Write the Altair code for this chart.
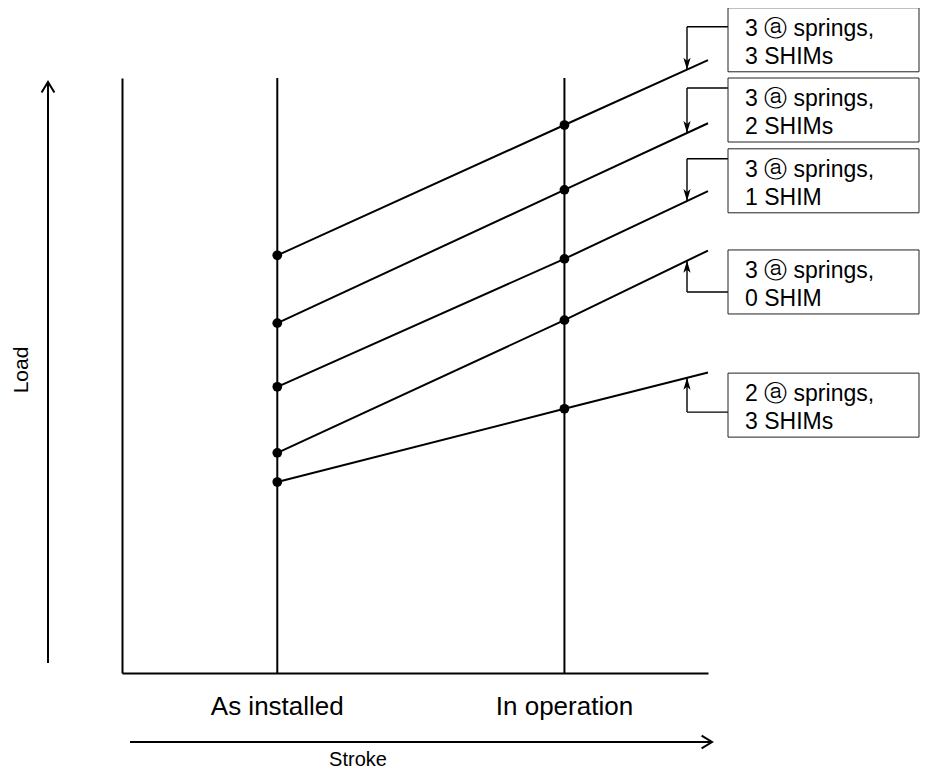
import altair as alt
import pandas as pd

# ---------------- data ----------------
stages = ["As installed", "In operation"]
stage_stroke = [26.5, 75.5]
end_stroke = 100.0

configs = [
    "3 ⓐ springs,\n3 SHIMs",
    "3 ⓐ springs,\n2 SHIMs",
    "3 ⓐ springs,\n1 SHIM",
    "3 ⓐ springs,\n0 SHIM",
    "2 ⓐ springs,\n3 SHIMs",
]
load_installed = [70.2, 58.8, 48.1, 37.0, 32.1]
load_operation = [92.1, 81.2, 69.6, 59.3, 44.4]
load_end = [103.0, 92.4, 81.0, 71.0, 50.5]

# ---------------- layout (annotation placement, data units) ----------------
W, H = 586, 595
PX, PY = W / 100.0, H / 100.0
box_top = [111.8, 100.0, 88.1, 71.1, 50.4]
box_h = 64 / PY
box_x, box_x2 = (728 - 122) / PX, (919 - 122) / PX
text_x = (745 - 122) / PX
conn_x = (687 - 122) / PX
conn_off = [19, 10, 10, 42, 39]          # px below box top
arrow_dir = ["down", "down", "down", "up", "up"]
FONT = "Liberation Sans"

# ---------------- tables ----------------
stage_df = pd.DataFrame({"stage": stages, "stroke": stage_stroke})

rows = []
for c, a, b, e in zip(configs, load_installed, load_operation, load_end):
    rows += [
        {"config": c, "stroke": stage_stroke[0], "load": a, "dot": True},
        {"config": c, "stroke": stage_stroke[1], "load": b, "dot": True},
        {"config": c, "stroke": end_stroke, "load": e, "dot": False},
    ]
lines_df = pd.DataFrame(rows)

ann = []
for i, c in enumerate(configs):
    frac = (conn_x - stage_stroke[1]) / (end_stroke - stage_stroke[1])
    line_y = load_operation[i] + frac * (load_end[i] - load_operation[i])
    cy = box_top[i] - conn_off[i] / PY
    ann.append({
        "config": c, "bx": box_x, "bx2": box_x2,
        "by": box_top[i], "by2": box_top[i] - box_h,
        "tx": text_x, "ty": box_top[i] - 28 / PY,
        "cx": conn_x, "cy": cy, "ly": line_y, "dir": arrow_dir[i],
    })
ann_df = pd.DataFrame(ann)
one = pd.DataFrame({"k": [0]})

xs = alt.Scale(domain=[0, 100], nice=False, zero=False)
ys = alt.Scale(domain=[0, 100], nice=False, zero=False)
frame_axis = dict(domain=True, domainColor="black", domainWidth=2, ticks=False,
                  labels=False, grid=False, title=None)

verticals = alt.Chart(stage_df).mark_rule(color="black", strokeWidth=2).encode(
    x=alt.X("stroke:Q", scale=xs, axis=alt.Axis(**frame_axis)),
    y=alt.Y(datum=0, scale=ys, axis=alt.Axis(**frame_axis)),
    y2=alt.Y2(datum=100),
)

stage_labels = alt.Chart(stage_df).mark_text(
    font=FONT, fontSize=26, baseline="middle", align="center", color="black"
).encode(x="stroke:Q", y=alt.value(707 - 78), text="stage:N")

load_lines = alt.Chart(lines_df).mark_line(color="black", strokeWidth=2).encode(
    x="stroke:Q", y="load:Q", detail="config:N"
)
dots = alt.Chart(lines_df).transform_filter("datum.dot").mark_circle(
    size=95, color="black", opacity=1
).encode(x="stroke:Q", y="load:Q")

boxes = alt.Chart(ann_df).mark_rect(fill="white", stroke="#222222", strokeWidth=1).encode(
    x="bx:Q", x2="bx2:Q", y="by:Q", y2="by2:Q"
)
box_text = alt.Chart(ann_df).mark_text(
    font=FONT, fontSize=23, align="left", baseline="alphabetic",
    lineBreak="\n", lineHeight=28, color="black"
).encode(x="tx:Q", y="ty:Q", text="config:N")

conn_h = alt.Chart(ann_df).mark_rule(color="black", strokeWidth=1.4).encode(
    x="cx:Q", x2="bx:Q", y="cy:Q"
)
conn_v = alt.Chart(ann_df).mark_rule(color="black", strokeWidth=1.4).encode(
    x="cx:Q", y="cy:Q", y2="ly:Q"
)
head_down = alt.Chart(ann_df).transform_filter("datum.dir == 'down'").mark_point(
    shape="M0,0L-0.6,-2L0,-1.5L0.6,-2Z", filled=True, size=144, color="black", opacity=1
).encode(x="cx:Q", y="ly:Q")
head_up = alt.Chart(ann_df).transform_filter("datum.dir == 'up'").mark_point(
    shape="M0,0L-0.6,2L0,1.5L0.6,2Z", filled=True, size=144, color="black", opacity=1
).encode(x="cx:Q", y="ly:Q")

# decorative axis arrows and titles
load_arrow = alt.Chart(one).mark_rule(color="black", strokeWidth=2).encode(
    x=alt.value(48 - 122), y=alt.value(82 - 78), y2=alt.value(663 - 78)
)
load_head = alt.Chart(one).mark_point(
    shape="M-0.8,1.3L0,0L0.8,1.3", filled=False, size=256, strokeWidth=2,
    color="black", opacity=1
).encode(x=alt.value(48 - 122), y=alt.value(82 - 78))
stroke_arrow = alt.Chart(one).mark_rule(color="black", strokeWidth=2).encode(
    x=alt.value(130 - 122), x2=alt.value(712 - 122), y=alt.value(742 - 78)
)
stroke_head = alt.Chart(one).mark_point(
    shape="M-1.3,-0.8L0,0L-1.3,0.8", filled=False, size=256, strokeWidth=2,
    color="black", opacity=1
).encode(x=alt.value(712 - 122), y=alt.value(742 - 78))
stroke_title = alt.Chart(one).mark_text(
    font=FONT, fontSize=20, align="center", baseline="middle", color="black"
).encode(x=alt.value(358 - 122), y=alt.value(760 - 78), text=alt.value("Stroke"))
load_title = alt.Chart(one).mark_text(
    font=FONT, fontSize=21, align="center", baseline="middle", angle=270, color="black"
).encode(x=alt.value(22 - 122), y=alt.value(370 - 78), text=alt.value("Load"))

chart = alt.layer(
    verticals, load_lines, dots, stage_labels,
    conn_h, conn_v, head_down, head_up, boxes, box_text,
    load_arrow, load_head, stroke_arrow, stroke_head, stroke_title, load_title,
).properties(
    width=W, height=H,
    background="white",
    autosize=alt.AutoSizeParams(type="none"),
    padding={"left": 114, "top": 70, "right": 212, "bottom": 101},
).configure_view(stroke=None)

chart.save("out.html", embed_options={"renderer": "svg", "actions": False})
